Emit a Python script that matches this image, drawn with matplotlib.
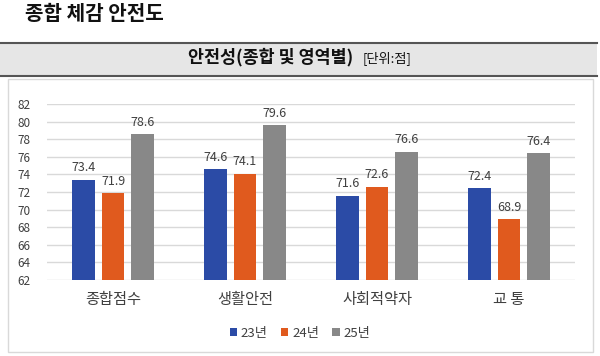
import matplotlib
matplotlib.use("Agg")
import matplotlib.pyplot as plt
import numpy as np
from matplotlib.patches import Rectangle
from matplotlib.lines import Line2D

plt.rcParams['font.family'] = ['Noto Sans CJK KR', 'DejaVu Sans']

# data
categories = ['종합점수', '생활안전', '사회적약자', '교 통']
years = ['23년', '24년', '25년']
v23 = [73.4, 74.6, 71.6, 72.4]
v24 = [71.9, 74.1, 72.6, 68.9]
v25 = [78.6, 79.6, 76.6, 76.4]
yticks = list(range(62, 84, 2))

colors = ['#2B4BA6', '#E05A1E', '#888888']
text_c = '#404040'

fig = plt.figure(figsize=(6, 3.56), dpi=100)
fig.patch.set_facecolor('white')

# header title
fig.text(25 / 600, 1 - 14 / 356, '종합 체감 안전도', fontsize=14.5, fontweight='bold',
         color='#111111', va='center', ha='left')

# gray band with lines
fig.patches.append(Rectangle((0, 1 - 75 / 356), 597 / 600, 33 / 356, transform=fig.transFigure,
                             facecolor='#E6E6E6', edgecolor='none'))
fig.lines.append(Line2D([0, 597 / 600], [1 - 42.5 / 356] * 2, transform=fig.transFigure,
                        color='#555555', lw=1.5))
fig.lines.append(Line2D([0, 597 / 600], [1 - 75.5 / 356] * 2, transform=fig.transFigure,
                        color='#555555', lw=1.5))
fig.text(271 / 600, 1 - 57 / 356, '안전성(종합 및 영역별)', fontsize=12.5, fontweight='bold',
         color='#111111', va='center', ha='center')
fig.text(363 / 600, 1 - 58 / 356, '[단위:점]', fontsize=9.5, color='#111111',
         va='center', ha='left')

# chart frame
fig.patches.append(Rectangle((8 / 600, 1 - 352 / 356), 585 / 600, 273 / 356,
                             transform=fig.transFigure, facecolor='none',
                             edgecolor='#D9D9D9', lw=1))

ax = fig.add_axes([47 / 600, 76 / 356, 528 / 600, 176 / 356])
x = np.arange(len(categories))
w = 0.174
pitch = 0.223
for i, (vals, c, lab) in enumerate(zip([v23, v24, v25], colors, years)):
    pos = x + (i - 1) * pitch
    ax.bar(pos, np.array(vals) - 62, w, bottom=62, color=c, label=lab, zorder=3)
    for p, v in zip(pos, vals):
        ax.text(p, v + 0.6, f'{v:.1f}', ha='center', va='bottom', fontsize=9,
                color=text_c)

ax.set_xlim(-0.5, 3.5)
ax.set_ylim(62, 82)
ax.set_yticks(yticks)
ax.set_yticklabels([str(t) for t in yticks], fontsize=8.5, color=text_c)
ax.set_xticks(x)
ax.set_xticklabels(categories, fontsize=11, color=text_c)
ax.tick_params(axis='both', length=0)
ax.tick_params(axis='y', pad=12)
ax.tick_params(axis='x', pad=8)
ax.grid(axis='y', color='#D9D9D9', lw=1, zorder=0)
for s in ax.spines.values():
    s.set_visible(False)

leg = fig.legend(loc='center', bbox_to_anchor=(0.5, 1 - 333 / 356), ncol=3, frameon=False,
                 fontsize=9.5, handlelength=0.55, handleheight=0.55, handletextpad=0.3,
                 columnspacing=1.0)
for t in leg.get_texts():
    t.set_color(text_c)

fig.savefig('out.png', dpi=100)
